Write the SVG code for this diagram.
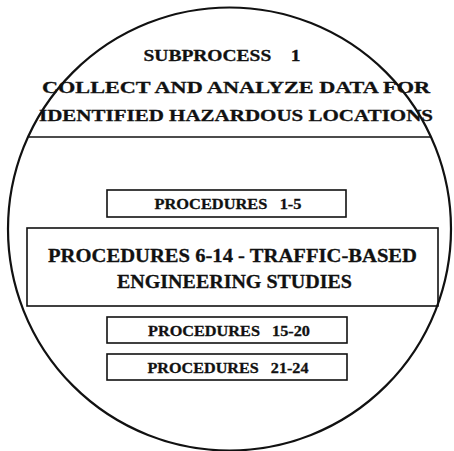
<svg xmlns="http://www.w3.org/2000/svg" width="454" height="451" viewBox="0 0 454 451">
<style>
.t{font-family:"Liberation Serif","DejaVu Serif",serif;font-weight:bold;fill:#111;stroke:#111;stroke-width:0.3;text-anchor:middle;white-space:pre}
.b{fill:none;stroke:#111;stroke-width:1.6}
</style>
<rect width="454" height="451" fill="#fff"/>
<g id="frame">
<circle cx="229.5" cy="229" r="221.5" fill="none" stroke="#111" stroke-width="2.2"/>
<line x1="29" y1="137" x2="431" y2="137" stroke="#111" stroke-width="1.6"/>
</g>
<g id="header">
<text class="t" x="222" y="61" font-size="17" textLength="157" lengthAdjust="spacingAndGlyphs" xml:space="preserve">SUBPROCESS    1</text>
<text class="t" x="236" y="93" font-size="16.5" textLength="388" lengthAdjust="spacingAndGlyphs">COLLECT AND ANALYZE DATA FOR</text>
<text class="t" x="236" y="121" font-size="16.5" textLength="394" lengthAdjust="spacingAndGlyphs">IDENTIFIED HAZARDOUS LOCATIONS</text>
</g>
<g id="p1-5">
<rect class="b" x="107" y="190" width="239" height="27"/>
<text class="t" x="228" y="209" font-size="15" textLength="147" lengthAdjust="spacingAndGlyphs" xml:space="preserve">PROCEDURES   1-5</text>
</g>
<g id="p6-14">
<rect class="b" x="27" y="228" width="411" height="78"/>
<text class="t" x="232.5" y="262" font-size="19" textLength="369" lengthAdjust="spacingAndGlyphs">PROCEDURES 6-14 - TRAFFIC-BASED</text>
<text class="t" x="234.5" y="288" font-size="19" textLength="235" lengthAdjust="spacingAndGlyphs">ENGINEERING STUDIES</text>
</g>
<g id="p15-20">
<rect class="b" x="107" y="317" width="240" height="26"/>
<text class="t" x="229" y="335.5" font-size="15" textLength="162" lengthAdjust="spacingAndGlyphs" xml:space="preserve">PROCEDURES   15-20</text>
</g>
<g id="p21-24">
<rect class="b" x="107" y="354" width="240" height="26"/>
<text class="t" x="228" y="372.5" font-size="15" textLength="161" lengthAdjust="spacingAndGlyphs" xml:space="preserve">PROCEDURES   21-24</text>
</g>
<g id="connectors"></g>
</svg>
